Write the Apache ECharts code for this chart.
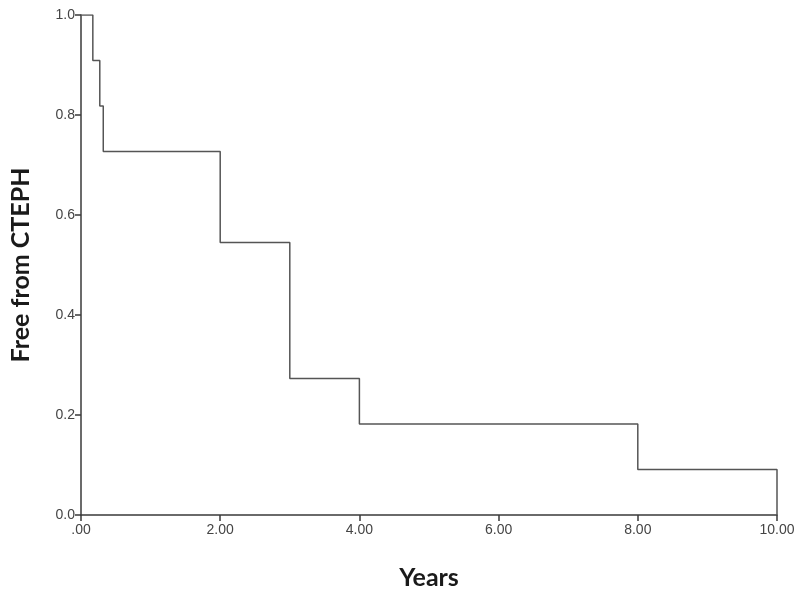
<!DOCTYPE html>
<html>
<head>
<meta charset="utf-8">
<script src="https://cdn.jsdelivr.net/npm/echarts@6/dist/echarts.min.js"></script>
<style>
  html, body { margin: 0; padding: 0; background: #fff; }
  #chart { width: 800px; height: 595px; }
</style>
</head>
<body>
<div id="chart"></div>
<script>
// Kaplan-Meier step points: time (years) and survival after the event
var times = [0, 0.17, 0.27, 0.32, 2.0, 3.0, 4.0, 8.0, 10.0];
var survival = [1.0, 0.909, 0.818, 0.727, 0.545, 0.273, 0.182, 0.091, 0.0];
var xTicks = [0, 2, 4, 6, 8, 10];
var yTicks = [0, 0.2, 0.4, 0.6, 0.8, 1.0];

var points = [];
for (var i = 0; i < times.length; i++) {
    points.push([times[i], survival[i]]);
}

var axisColor = '#3a3a3a';

var option = {
    animation: false,
    backgroundColor: '#fff',
    grid: { left: 81, right: 23, top: 15, bottom: 80, outerBoundsMode: 'none', containLabel: false },
    xAxis: {
        type: 'value',
        min: 0,
        max: 10,
        interval: 2,
        name: 'Years',
        nameLocation: 'middle',
        nameGap: 50,
        nameTextStyle: { fontFamily: 'Lato', fontWeight: 'bold', fontSize: 25, color: '#1a1a1a' },
        axisLine: { lineStyle: { color: axisColor, width: 1.5 } },
        axisTick: { show: true, length: 6, lineStyle: { color: axisColor, width: 1.5 } },
        splitLine: { show: false },
        axisLabel: {
            color: '#444', fontFamily: 'Liberation Sans', fontSize: 14, margin: 8,
            formatter: function (v) {
                return v === 0 ? '.00' : v.toFixed(2);
            }
        }
    },
    yAxis: {
        type: 'value',
        min: 0,
        max: 1,
        interval: 0.2,
        name: 'Free from CTEPH',
        nameLocation: 'middle',
        nameGap: 48,
        nameTextStyle: { fontFamily: 'Lato', fontWeight: 'bold', fontSize: 25, color: '#1a1a1a' },
        axisLine: { show: true, lineStyle: { color: axisColor, width: 1.5 } },
        axisTick: { show: true, length: 6, lineStyle: { color: axisColor, width: 1.5 } },
        splitLine: { show: false },
        axisLabel: {
            color: '#444', fontFamily: 'Liberation Sans', fontSize: 14, margin: 6,
            formatter: function (v) { return v.toFixed(1); }
        }
    },
    series: [{
        type: 'line',
        step: 'end',
        data: points,
        symbol: 'none',
        lineStyle: { color: '#555', width: 1.5 }
    }]
};

var myChart = echarts.init(document.getElementById('chart'));
myChart.setOption(option);
</script>
</body>
</html>
